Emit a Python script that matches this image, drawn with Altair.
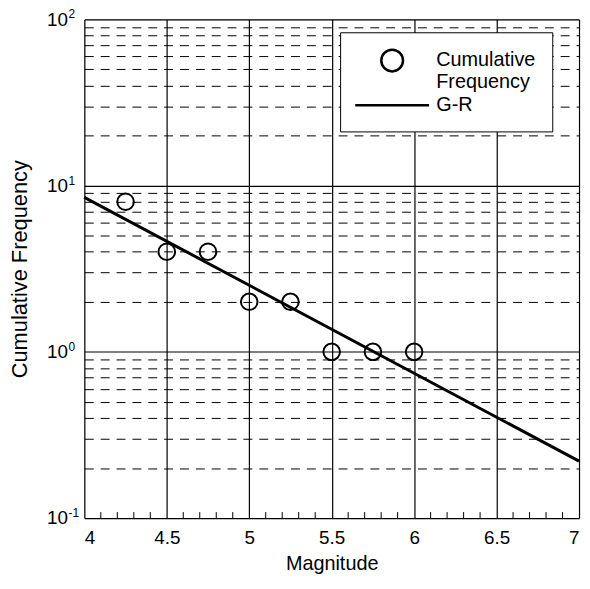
import altair as alt
import pandas as pd

# Observed data
magnitude = [4.25, 4.5, 4.75, 5.0, 5.25, 5.5, 5.75, 6.0]
cum_freq = [8, 4, 4, 2, 2, 1, 1, 1]

# Gutenberg-Richter fit line endpoints
gr_mag = [4.0, 7.0]
gr_freq = [8.5, 0.22]

x_ticks = [4.0, 4.5, 5.0, 5.5, 6.0, 6.5, 7.0]
x_minor = [4.1, 4.2, 4.3, 4.4, 4.6, 4.7, 4.8, 4.9, 5.1, 5.2, 5.3, 5.4,
           5.6, 5.7, 5.8, 5.9, 6.1, 6.2, 6.3, 6.4, 6.6, 6.7, 6.8, 6.9]
y_ticks = [0.1, 0.2, 0.3, 0.4, 0.5, 0.6, 0.7, 0.8, 0.9,
           1, 2, 3, 4, 5, 6, 7, 8, 9,
           10, 20, 30, 40, 50, 60, 70, 80, 90, 100]
decades = [0.1, 1, 10, 100]
exponents = ["-1", "0", "1", "2"]

series = ["Cumulative Frequency", "G-R"]

pts = pd.DataFrame({"mag": magnitude, "freq": cum_freq, "series": series[0]})
line = pd.DataFrame({"mag": gr_mag, "freq": gr_freq})
minor = pd.DataFrame({"mag": x_minor})
exp_df = pd.DataFrame({"freq": decades, "exp": exponents})

FONT = "Liberation Sans"

xscale = alt.Scale(domain=[4, 7], nice=False, zero=False)
yscale = alt.Scale(type="log", domain=[0.1, 100], nice=False)

xaxis = alt.Axis(values=x_ticks, title="Magnitude", grid=True, gridColor="black",
                 gridWidth=1.2, gridOpacity=1, ticks=False, domain=False,
                 labelFontSize=19, labelPadding=11, labelColor="black",
                 labelFont=FONT, titleFont=FONT, titleFontSize=20,
                 titleFontWeight="normal", titleColor="black", titlePadding=6,
                 labelExpr="datum.value == 4 || datum.value == 5 || datum.value == 6 || datum.value == 7 ? format(datum.value, 'd') : format(datum.value, '.1f')")

yaxis = alt.Axis(values=y_ticks, title="Cumulative Frequency", grid=True,
                 gridColor="black", gridOpacity=1,
                 gridWidth={"condition": {"test": "indexof([0.1, 1, 10, 100], datum.value) >= 0", "value": 1.2}, "value": 1},
                 gridDash={"condition": {"test": "indexof([0.1, 1, 10, 100], datum.value) >= 0", "value": []}, "value": [9, 7]},
                 ticks=False, domain=False, labelOverlap=False,
                 labelFontSize=19, labelPadding=17, labelColor="black",
                 labelFont=FONT, titleFont=FONT, titleFontSize=22,
                 titleFontWeight="normal", titleColor="black", titlePadding=15,
                 labelExpr="indexof([0.1, 1, 10, 100], datum.value) >= 0 ? '10' : ''")

legend = alt.Legend(title=None, orient="none", legendX=258, legendY=13,
                    strokeColor="black", fillColor="white", padding=16,
                    labelFont=FONT, labelFontSize=20, labelColor="black",
                    symbolSize=480, symbolOffset=24, labelOffset=32,
                    symbolStrokeColor="black", symbolFillColor="transparent",
                    symbolStrokeWidth=2.5, rowPadding=0, labelLimit=300,
                    labelExpr="datum.label == 'Cumulative Frequency' ? ['Cumulative', 'Frequency'] : datum.label")

points = alt.Chart(pts).mark_point(filled=False, strokeWidth=2, opacity=1, size=280).encode(
    x=alt.X("mag:Q", scale=xscale, axis=xaxis),
    y=alt.Y("freq:Q", scale=yscale, axis=yaxis),
    color=alt.Color("series:N", scale=alt.Scale(domain=series, range=["black", "black"]), legend=legend),
    shape=alt.Shape("series:N", scale=alt.Scale(domain=series, range=["circle", "M-3.4,0H3.4"]), legend=legend),
)

gr = alt.Chart(line).mark_line(color="black", strokeWidth=3).encode(
    x=alt.X("mag:Q", scale=xscale),
    y=alt.Y("freq:Q", scale=yscale),
)

minor_ticks = alt.Chart(minor).mark_rule(color="black", strokeWidth=1).encode(
    x=alt.X("mag:Q", scale=xscale),
    y=alt.value(503),
    y2=alt.value(497),
)

exp_text = alt.Chart(exp_df).mark_text(
    font=FONT, fontSize=12, color="black", align="left", baseline="middle", dy=-5
).encode(
    x=alt.value(-16),
    y=alt.Y("freq:Q", scale=yscale),
    text="exp:N",
)

chart = alt.layer(minor_ticks, gr, points, exp_text).properties(
    width=499, height=503,
    padding={"left": 77, "top": 9, "right": 3, "bottom": 61},
    autosize=alt.AutoSizeParams(type="none"),
).configure_view(stroke="black", strokeWidth=1.5).configure(background="white")

chart.save("out.html", embed_options={"renderer": "svg", "actions": False})
